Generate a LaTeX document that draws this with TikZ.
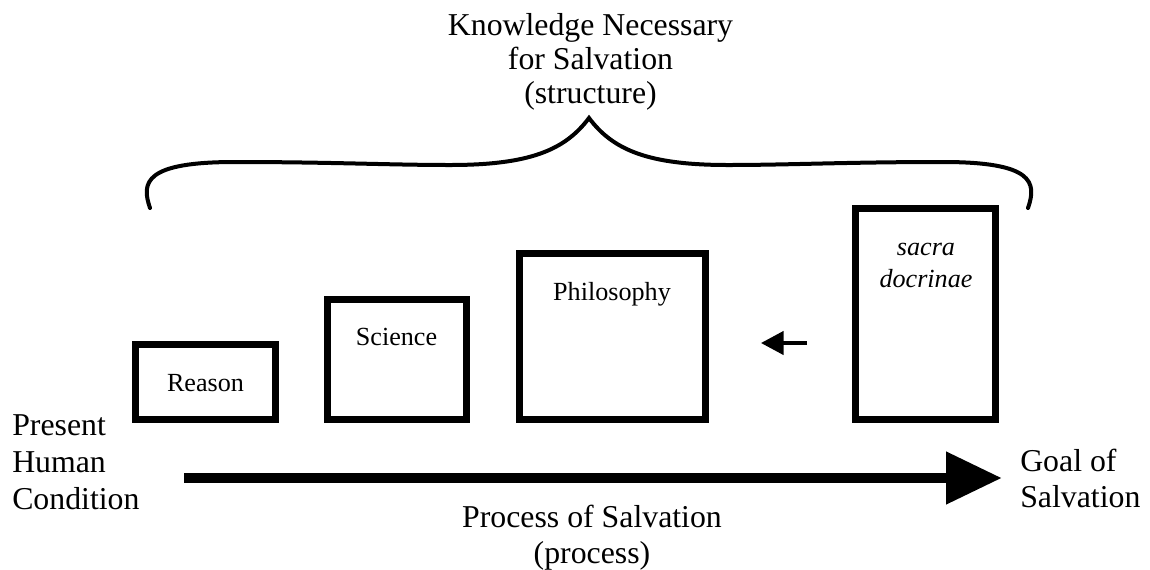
\documentclass[tikz,border=0pt]{standalone}
\usepackage{fontspec}
\setmainfont{Liberation Serif}
\usetikzlibrary{arrows.meta}
\tikzset{
  boxshape/.style={draw, line width=5.2pt, rectangle, inner sep=0pt},
  boxlbl/.style={inner sep=0pt, anchor=base, font=\fontsize{19.6pt}{24pt}\selectfont},
  biglbl/.style={inner sep=0pt, anchor=base, font=\fontsize{23.85pt}{26.6pt}\selectfont},
  bigarrow/.style={line width=8.2pt, -{Triangle[length=42pt, width=37.5pt]}},
  smallarrow/.style={line width=2.6pt, -{Triangle[length=17pt, width=17.5pt]}},
  bracepath/.style={line width=3pt, line cap=round}
}
\begin{document}
\begin{tikzpicture}[x=0.75pt, y=-0.75pt]
\useasboundingbox (0,0) rectangle (1150,569);
% boxes
\node[boxshape, minimum width=140*0.75pt, minimum height=75*0.75pt] (reason) at (205.5,382) {};
\node[boxshape, minimum width=139*0.75pt, minimum height=120*0.75pt] (science) at (397,359.5) {};
\node[boxshape, minimum width=186*0.75pt, minimum height=166*0.75pt] (philo) at (612.5,336.5) {};
\node[boxshape, minimum width=140*0.75pt, minimum height=211*0.75pt] (sacra) at (925.5,314) {};
% box labels
\node[boxlbl] (reasonlbl) at (205.5,391) {Reason};
\node[boxlbl] (sciencelbl) at (396.5,345) {Science};
\node[boxlbl] (philolbl) at (612,300) {Philosophy};
\node[boxlbl, align=center] (sacralbl) at (926,287) {\itshape sacra\\\itshape docrinae};
% small arrow
\coordinate (sa1) at (807,343);
\coordinate (sa2) at (761,343);
\draw[smallarrow] (sa1) -- (sa2);
% brace
\coordinate (bl) at (150,208);
\coordinate (tip) at (589,118);
\coordinate (br) at (1028,208);
\draw[bracepath] (bl) .. controls (141,182) and (145,162) .. (235,162)
  .. controls (330,162) and (390,165) .. (450,165)
  .. controls (530,165) and (565,150) .. (tip)
  .. controls (613,150) and (648,165) .. (728,165)
  .. controls (788,165) and (848,162) .. (943,162)
  .. controls (1033,162) and (1037,182) .. (br);
% title
\node[biglbl, align=center, font=\fontsize{23.85pt}{25.5pt}\selectfont] (title) at (590.5,103) {Knowledge Necessary\\for Salvation\\(structure)};
% side labels
\node[biglbl, anchor=base west, align=left, font=\fontsize{23.85pt}{27.5pt}\selectfont] (present) at (12,509) {Present\\Human\\Condition};
\node[biglbl, anchor=base west, align=left, font=\fontsize{23.85pt}{26.3pt}\selectfont] (goal) at (1020,507) {Goal of\\Salvation};
\node[biglbl, align=center, font=\fontsize{23.85pt}{27pt}\selectfont] (process) at (592,563) {Process of Salvation\\(process)};
% big arrow
\coordinate (pa1) at (184,478);
\coordinate (pa2) at (1002,478);
\draw[bigarrow] (pa1) -- (pa2);
\end{tikzpicture}
\end{document}
